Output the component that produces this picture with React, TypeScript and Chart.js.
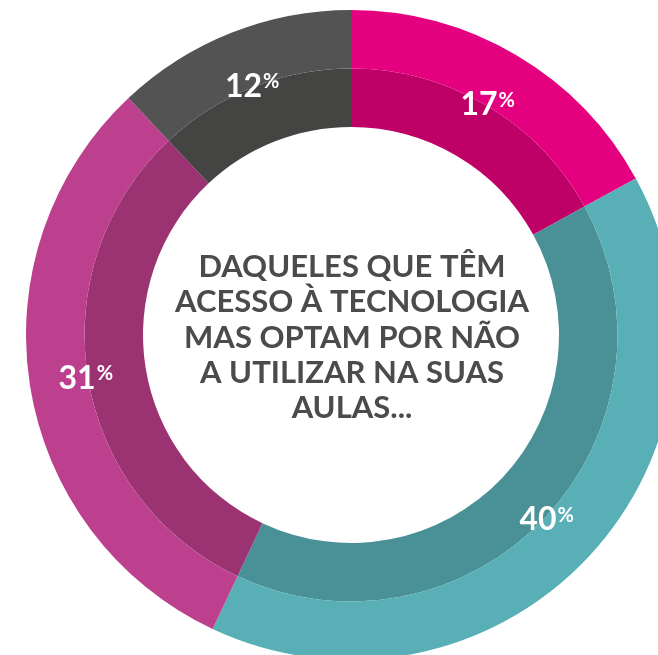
import React, { useEffect, useRef } from "react";
import { Chart, registerables } from "chart.js";

Chart.register(...registerables);

const categories = ["Grupo A", "Grupo B", "Grupo C", "Grupo D"];
const values = [17, 40, 31, 12];
const valueLabels = ["17", "40", "31", "12"];
const outerColors = ["#E5007F", "#58B0B6", "#BC408D", "#535353"];
const innerColors = ["#BF0066", "#4A9197", "#9B3272", "#444443"];
const centerLines = [
  "DAQUELES QUE TÊM",
  "ACESSO À TECNOLOGIA",
  "MAS OPTAM POR NÃO",
  "A UTILIZAR NA SUAS",
  "AULAS...",
];

const FONT = "Lato, 'Open Sans', sans-serif";

const labelPlugin = {
  id: "ringLabels",
  afterDraw(chart: any) {
    const ctx = chart.ctx;
    const meta = chart.getDatasetMeta(0);
    ctx.save();
    ctx.fillStyle = "#ffffff";
    ctx.textAlign = "left";
    ctx.textBaseline = "alphabetic";
    meta.data.forEach((arc: any, i: number) => {
      const p = arc.getProps(["x", "y", "startAngle", "endAngle", "innerRadius"], true);
      const mid = (p.startAngle + p.endAngle) / 2;
      const r = p.innerRadius + 2;
      const x = p.x + Math.cos(mid) * r;
      const y = p.y + Math.sin(mid) * r;
      const numSize = 32;
      const pctSize = 20;
      ctx.font = `bold ${numSize}px ${FONT}`;
      const w1 = ctx.measureText(valueLabels[i]).width;
      ctx.font = `bold ${pctSize}px ${FONT}`;
      const w2 = ctx.measureText("%").width;
      const gap = 1;
      const total = w1 + gap + w2;
      const capN = numSize * 0.72;
      const capP = pctSize * 0.72;
      const left = x - total / 2;
      ctx.font = `bold ${numSize}px ${FONT}`;
      ctx.fillText(valueLabels[i], left, y + capN / 2);
      ctx.font = `bold ${pctSize}px ${FONT}`;
      ctx.fillText("%", left + w1 + gap, y - capN / 2 + capP);
    });

    // center text
    const cx = (chart.chartArea.left + chart.chartArea.right) / 2;
    const cy = (chart.chartArea.top + chart.chartArea.bottom) / 2;
    const size = 31;
    const lh = 35.3;
    ctx.font = `bold ${size}px ${FONT}`;
    ctx.fillStyle = "#4b4b4b";
    ctx.textAlign = "center";
    const cap = size * 0.72;
    const n = centerLines.length;
    centerLines.forEach((line, i) => {
      const lineCenter = cy + 1.5 + (i - (n - 1) / 2) * lh;
      ctx.fillText(line, cx + 1, lineCenter + cap / 2);
    });
    ctx.restore();
  },
};

export default function App() {
  const ref = useRef<HTMLCanvasElement>(null);
  useEffect(() => {
    if (!ref.current) return;
    const chart = new Chart(ref.current, {
      type: "doughnut",
      data: {
        labels: categories,
        datasets: [
          { data: values, backgroundColor: outerColors, borderWidth: 0 },
          { data: values, backgroundColor: innerColors, borderWidth: 0 },
        ],
      },
      options: {
        responsive: false,
        animation: false,
        cutout: "64%",
        layout: { padding: 0 },
        plugins: {
          legend: { display: false },
          tooltip: { enabled: false },
        },
      },
      plugins: [labelPlugin],
    });
    return () => chart.destroy();
  }, []);
  return (
    <div
      style={{
        position: "fixed",
        left: 0,
        top: 0,
        width: 658,
        height: 655,
        overflow: "hidden",
        background: "#ffffff",
      }}
    >
      <canvas
        ref={ref}
        width={650}
        height={650}
        style={{ position: "absolute", left: 26, top: 10 }}
      />
    </div>
  );
}
